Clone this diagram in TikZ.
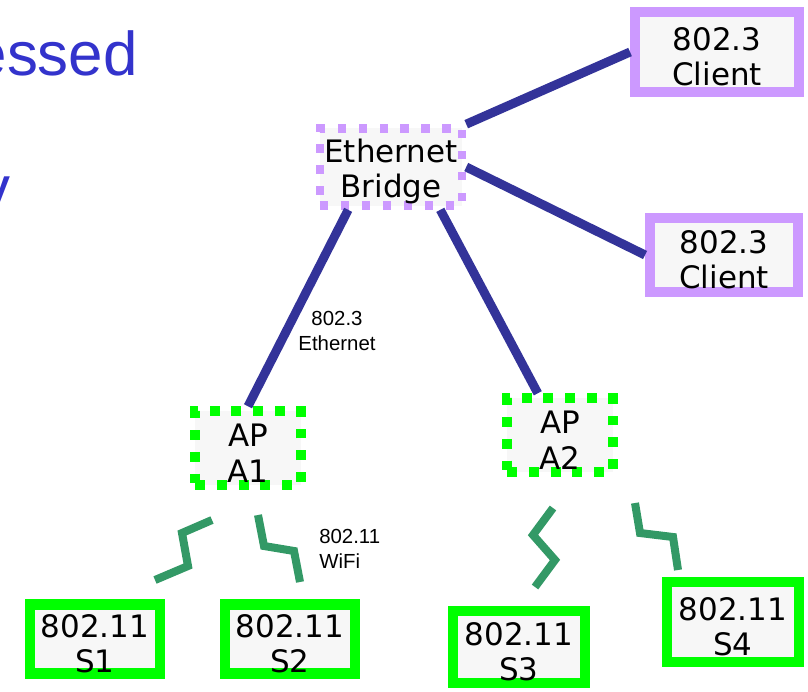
\documentclass[tikz,border=0pt]{standalone}
\usepackage{fontspec}
\setmainfont{DejaVu Sans}
\newfontfamily\arialfont{Liberation Sans}
\usetikzlibrary{positioning}
\definecolor{linkblue}{HTML}{333399}
\definecolor{wired}{HTML}{CC99FF}
\definecolor{wireless}{HTML}{00FF00}
\definecolor{radio}{HTML}{339966}
\definecolor{titleblue}{HTML}{3333CC}
\definecolor{boxfill}{HTML}{F7F7F7}

\begin{document}
\begin{tikzpicture}[x=0.025cm,y=-0.025cm,
  box/.style={fill=boxfill,align=center,inner sep=0pt,font=\fontsize{22}{25.5}\selectfont,text height=48.5pt},
  clientbox/.style={box,draw=wired,line width=7pt},
  stationbox/.style={box,draw=wireless,line width=7.5pt,minimum width=3.25cm,minimum height=1.7cm},
  bridgebox/.style={box,draw=wired,line width=6pt,dash pattern=on 6pt off 8.9pt,minimum width=3.55cm,minimum height=1.93cm},
  apbox/.style={box,draw=wireless,line width=7pt,dash pattern=on 7pt off 8.4pt,minimum width=2.63cm,minimum height=1.84cm},
  link/.style={linkblue,line width=6.4pt},
  bolt/.style={radio,line width=5.7pt},
  lbl/.style={inner sep=0pt,font=\arialfont\fontsize{14.5}{17.7}\selectfont}]
  \useasboundingbox (0,0) rectangle (808,691);

  % cut-off slide title
  \node[anchor=base east,inner sep=0pt,text=titleblue,font=\arialfont\fontsize{44}{50}\selectfont] (title) at (138,75) {essed};
  \node[anchor=base east,inner sep=0pt,text=titleblue,font=\arialfont\fontsize{44}{50}\selectfont] (titley) at (11,209) {y};

  % wired side
  \node[bridgebox] (bridge) at (391,167) {Ethernet\\Bridge};
  \node[clientbox,minimum width=4.1cm,minimum height=1.98cm] (client1) at (717,52) {802.3\\Client};
  \node[clientbox,minimum width=3.7cm,minimum height=1.85cm] (client2) at (724,255) {802.3\\Client};

  % access points
  \node[apbox] (apa1) at (248,448) {AP\\A1};
  \node[apbox] (apa2) at (560,435) {AP\\A2};

  % stations
  \node[stationbox] (s1) at (95,639) {802.11\\S1};
  \node[stationbox] (s2) at (290,639) {802.11\\S2};
  \node[stationbox,minimum width=3.3cm,minimum height=1.8cm] (s3) at (519,647) {802.11\\S3};
  \node[stationbox,minimum width=3.3cm,minimum height=2cm] (s4) at (733,622) {802.11\\S4};

  \draw[link] (bridge.north east) -- (client1.west);
  \draw[link] (bridge.east) -- (client2.west);
  \draw[link] (bridge.225) -- (apa1.north);
  \draw[link] (bridge.319) -- (apa2.118);

  % radio links
  \draw[bolt] (155,580) -- (188,566) -- (182,533) -- (212,520);
  \draw[bolt] (258,515) -- (264,546) -- (294,551) -- (300,582);
  \draw[bolt] (553,508) -- (533,535) -- (555,560) -- (535,587);
  \draw[bolt] (635,503) -- (640,533) -- (673,537) -- (678,570);

  \node[lbl,align=center] (ethlbl) at (337,331) {802.3\\Ethernet};
  \node[lbl,anchor=west,align=left] (wifilbl) at (319,549) {802.11\\WiFi};
\end{tikzpicture}
\end{document}
